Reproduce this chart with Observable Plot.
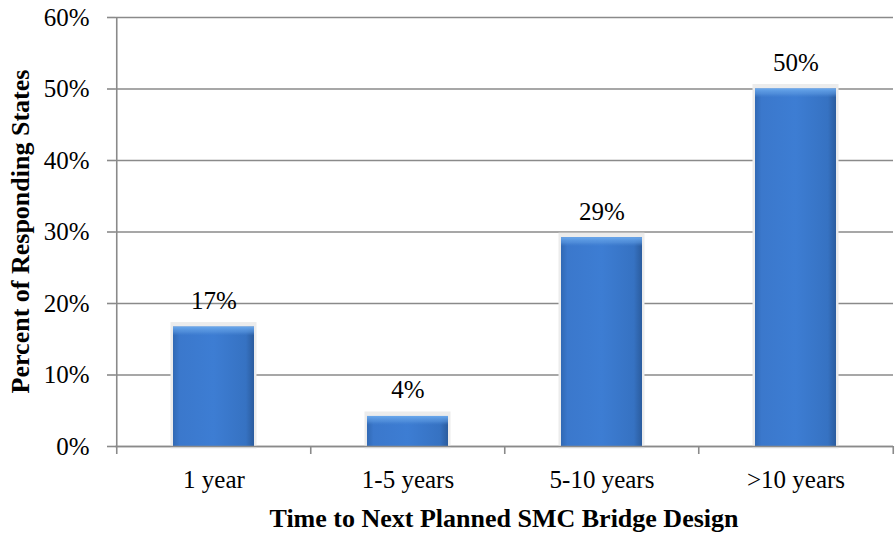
<!DOCTYPE html>
<html>
<head>
<meta charset="utf-8">
<script src="https://cdn.jsdelivr.net/npm/d3@7"></script>
<script src="https://cdn.jsdelivr.net/npm/@observablehq/plot@0.6"></script>
<style>
  body { margin: 0; background: #fff; }
  #chart svg, #chart svg text { font-family: "Liberation Serif", "Times New Roman", serif !important; }
  #chart svg g[aria-label="y-axis tick label"] text,
  #chart svg g[aria-label="x-axis tick label"] text,
  #chart svg g[aria-label="text"] text { font-size: 25px; }
</style>
</head>
<body>
<div id="chart"></div>
<script>
const categories = ["1 year", "1-5 years", "5-10 years", ">10 years"];
const percents = [16.7, 4.2, 29.2, 50];
const labels = ["17%", "4%", "29%", "50%"];
const yTicks = [0, 10, 20, 30, 40, 50, 60];

const data = categories.map((c, i) => ({cat: c, value: percents[i], label: labels[i]}));

const W = 895, H = 534;
const mL = 115, mR = 2, mT = 17, mB = 88;
const bw = (W - mL - mR) / categories.length;
const gray = "#8a8a8a";

const chart = Plot.plot({
  width: W,
  height: H,
  marginLeft: mL,
  marginRight: mR,
  marginTop: mT,
  marginBottom: mB,
  style: {background: "#fff", color: "#000"},
  x: {domain: categories, paddingInner: 0.585, paddingOuter: 0.2925, label: null},
  y: {domain: [0, 60], label: null},
  marks: [
    Plot.ruleY(yTicks, {stroke: gray, strokeWidth: 1.6}),
    Plot.axisY({ticks: yTicks, tickSize: 8, tickPadding: 18, tickFormat: d => d + "%", stroke: gray, strokeWidth: 1.6, fill: "#000", strokeOpacity: 1}),
    Plot.ruleX(categories, {x: d => d, dx: -bw / 2, y1: 0, y2: 0, insetBottom: -8, stroke: gray, strokeWidth: 1.6}),
    Plot.ruleX([categories[categories.length - 1]], {x: d => d, dx: bw / 2, y1: 0, y2: 0, insetBottom: -8, stroke: gray, strokeWidth: 1.6}),
    Plot.axisX({tickSize: 0, tickPadding: 24, fill: "#000"}),
    Plot.barY(data, {x: "cat", y: "value", fill: "none", stroke: "#ececec", strokeWidth: 5, insetTop: -2}),
    Plot.barY(data, {x: "cat", y: "value", fill: "url(#barGrad)"}),
    Plot.barY(data, {x: "cat", y: "value", fill: "none"}),
    Plot.ruleX(categories.slice(0, 1), {x: d => d, dx: -bw / 2, y1: 0, y2: 60, stroke: gray, strokeWidth: 1.6}),
    Plot.ruleY([0], {stroke: gray, strokeWidth: 1.6}),
    Plot.text(data, {x: "cat", y: "value", text: "label", dy: -26, fill: "#000"})
  ]
});

const ns = "http://www.w3.org/2000/svg";
const defs = document.createElementNS(ns, "defs");
defs.innerHTML = `
  <linearGradient id="barGrad" x1="0" x2="1" y1="0" y2="0">
    <stop offset="0" stop-color="#3169b4"/>
    <stop offset="0.08" stop-color="#3b78cc"/>
    <stop offset="0.5" stop-color="#3d7dd3"/>
    <stop offset="0.9" stop-color="#3672c2"/>
    <stop offset="1" stop-color="#2b5c9e"/>
  </linearGradient>`;
chart.insertBefore(defs, chart.firstChild);

const barGroups = chart.querySelectorAll("g[aria-label='bar']");
const topGroup = barGroups[2];
topGroup.querySelectorAll("rect").forEach((r, i) => {
  const y = +r.getAttribute("y");
  const g = document.createElementNS(ns, "linearGradient");
  g.setAttribute("id", "top" + i);
  g.setAttribute("gradientUnits", "userSpaceOnUse");
  g.setAttribute("x1", 0); g.setAttribute("x2", 0);
  g.setAttribute("y1", y); g.setAttribute("y2", y + 9);
  g.innerHTML = `<stop offset="0" stop-color="#6aa8ec" stop-opacity="1"/><stop offset="0.6" stop-color="#5b98e0" stop-opacity="0.6"/><stop offset="1" stop-color="#4a88d6" stop-opacity="0"/>`;
  defs.appendChild(g);
  r.setAttribute("fill", `url(#top${i})`);
});

function addText(txt, attrs) {
  const t = document.createElementNS(ns, "text");
  for (const k in attrs) t.setAttribute(k, attrs[k]);
  t.setAttribute("style", "font-family:'Liberation Serif',serif;font-weight:bold;font-size:26px;fill:#000");
  t.textContent = txt;
  chart.appendChild(t);
}
addText("Percent of Responding States", {transform: `translate(29,${mT + (H - mT - mB) / 2}) rotate(-90)`, "text-anchor": "middle"});
addText("Time to Next Planned SMC Bridge Design", {x: mL + (W - mL - mR) / 2, y: 527, "text-anchor": "middle"});

document.getElementById("chart").appendChild(chart);
</script>
</body>
</html>
